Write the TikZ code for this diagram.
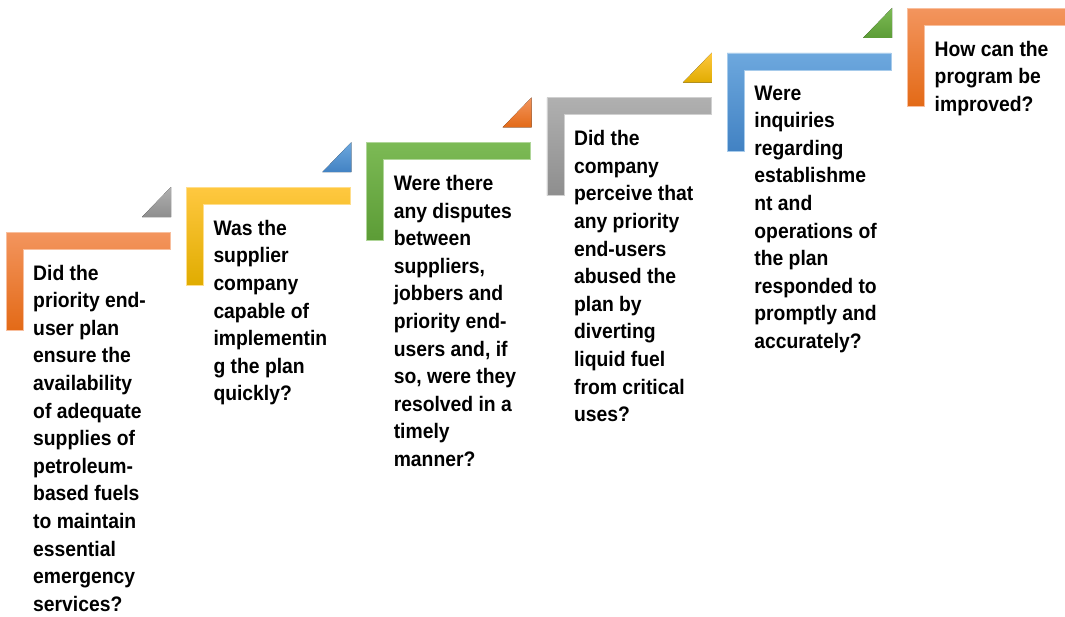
\documentclass[tikz,border=0pt]{standalone}
\usepackage{fontspec}
\setmainfont[FakeStretch=0.92]{Liberation Sans}

\definecolor{orangeA}{HTML}{F3955E}
\definecolor{orangeB}{HTML}{E36A17}
\definecolor{yellowA}{HTML}{FFC840}
\definecolor{yellowB}{HTML}{E0AC00}
\definecolor{greenA}{HTML}{7CBA55}
\definecolor{greenB}{HTML}{5C9C36}
\definecolor{grayA}{HTML}{B0B0B0}
\definecolor{grayB}{HTML}{8E8E8E}
\definecolor{blueA}{HTML}{6DA8DE}
\definecolor{blueB}{HTML}{4282C3}

\tikzset{
  stair/.style={top color=#1A, bottom color=#1B, draw=#1A!60!white, line width=0.4pt},
  corner/.style={top color=#1A, bottom color=#1B, draw=none},
  question/.style={anchor=north west, align=left, inner sep=0pt,
    font=\bfseries\fontsize{21}{27.6}\selectfont}
}

\begin{document}
\begin{tikzpicture}[x=1pt,y=-1pt]
    \useasboundingbox[fill=white] (0,0) rectangle (1065,616);
    \clip (0,0) rectangle (1065,616);

    % the six steps
    \foreach \i/\col in {0/orange,1/yellow,2/green,3/gray,4/blue,5/orange}
        \draw[stair=\col,shift={(\i*180.3,-\i*44.8)}] (6,232) -- (170,232) -- (170,249) -- (23,249) -- (23,330) -- (6,330) -- cycle;

    % small triangles in the colour of the next step
    \foreach \i/\col in {0/gray,1/blue,2/orange,3/yellow,4/green}
        \fill[corner=\col,shift={(\i*180.3,-\i*44.8)}] (171,217) -- (171,187) -- (142,217) -- cycle;

    \node[question] (q1) at (33,264.7) {Did the\\priority end-\\user plan\\ensure the\\availability\\of adequate\\supplies of\\petroleum-\\based fuels\\to maintain\\essential\\emergency\\services?};
    \node[question] (q2) at (213.3,219.9) {Was the\\supplier\\company\\capable of\\implementin\\g the plan\\quickly?};
    \node[question] (q3) at (393.6,175.1) {Were there\\any disputes\\between\\suppliers,\\jobbers and\\priority end-\\users and, if\\so, were they\\resolved in a\\timely\\manner?};
    \node[question] (q4) at (573.9,130.3) {Did the\\company\\perceive that\\any priority\\end-users\\abused the\\plan by\\diverting\\liquid fuel\\from critical\\uses?};
    \node[question] (q5) at (754.2,85.5) {Were\\inquiries\\regarding\\establishme\\nt and\\operations of\\the plan\\responded to\\promptly and\\accurately?};
    \node[question] (q6) at (934.5,40.7) {How can the\\program be\\improved?};
\end{tikzpicture}
\end{document}
